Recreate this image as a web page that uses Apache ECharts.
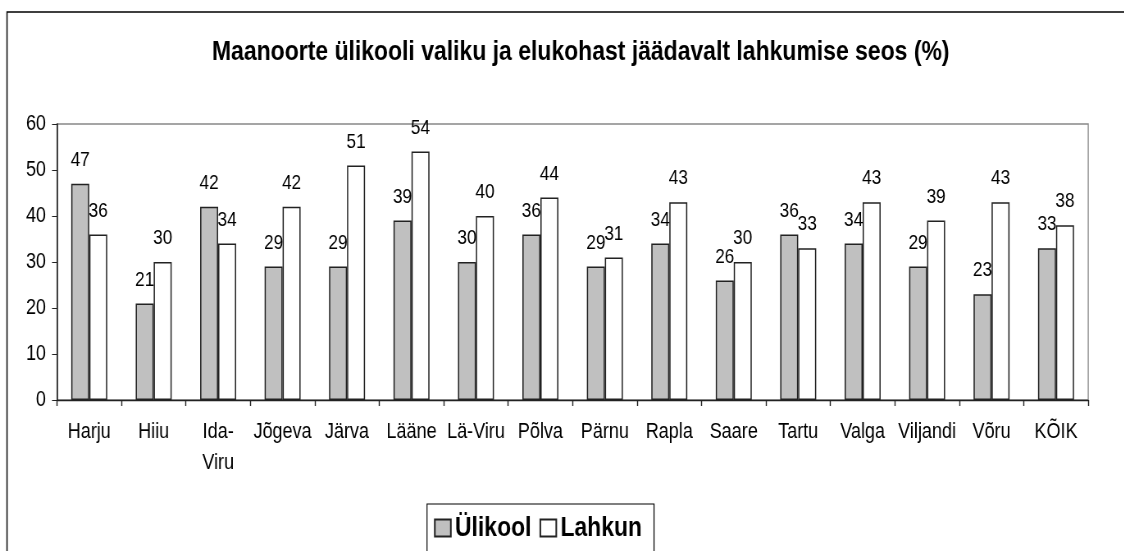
<!DOCTYPE html>
<html>
<head>
<meta charset="utf-8">
<script src="https://cdn.jsdelivr.net/npm/echarts@6/dist/echarts.min.js"></script>
<style>
  html, body { margin: 0; padding: 0; background: #fff; overflow: hidden; }
  /* the original text is horizontally condensed, so draw wider and squeeze */
  #chart { width: 1371px; height: 551px; transform: scaleX(0.82); transform-origin: 0 0; }
</style>
</head>
<body>
<div id="chart"></div>
<script>
const categories = ['Harju', 'Hiiu', 'Ida-Viru', 'Jõgeva', 'Järva', 'Lääne', 'Lä-Viru', 'Põlva',
  'Pärnu', 'Rapla', 'Saare', 'Tartu', 'Valga', 'Viljandi', 'Võru', 'KÕIK'];
const ylikool = [47, 21, 42, 29, 29, 39, 30, 36, 29, 34, 26, 36, 34, 29, 23, 33];
const lahkun = [36, 30, 34, 42, 51, 54, 40, 44, 31, 43, 30, 33, 43, 39, 43, 38];
const yTicks = [0, 10, 20, 30, 40, 50, 60];

const font = "'Liberation Sans', Arial, sans-serif";
const sx = 0.82; // horizontal squeeze of the page
const px = v => v / sx; // horizontal pixel in picture -> chart coordinate

const chart = echarts.init(document.getElementById('chart'));

const barLabel = {
  show: true,
  position: 'top',
  distance: 13,
  color: '#000',
  fontFamily: font,
  fontSize: 21
};

const option = {
  backgroundColor: '#fff',
  animation: false,
  title: {
    text: 'Maanoorte ülikooli valiku ja elukohast jäädavalt lahkumise seos (%)',
    left: px(212) - 5,
    top: 33,
    padding: 5,
    textStyle: { fontFamily: font, fontSize: 28, fontWeight: 'bold', color: '#000' }
  },
  graphic: [{
    type: 'rect',
    shape: { x: px(7), y: 12, width: 1500, height: 600 },
    style: { fill: 'none', stroke: '#000', lineWidth: 1.5 },
    silent: true
  }],
  legend: {
    left: px(427),
    top: 504,
    padding: [10, px(12), 20, px(7)],
    borderColor: '#000',
    borderWidth: 1.2,
    itemWidth: px(16),
    itemHeight: 17,
    itemGap: px(8),
    icon: 'rect',
    textStyle: { fontFamily: font, fontSize: 28, fontWeight: 'bold', color: '#000' },
    data: ['Ülikool', 'Lahkun']
  },
  grid: {
    left: px(57), right: px(36), top: 124, bottom: 151,
    show: true, borderColor: '#888', borderWidth: 1.3
  },
  xAxis: {
    type: 'category',
    data: categories,
    boundaryGap: true,
    axisLine: { lineStyle: { color: '#222', width: 1.3 } },
    axisTick: { show: true, length: 6, alignWithLabel: false, lineStyle: { color: '#222', width: 1.4 } },
    axisLabel: {
      interval: 0,
      margin: 16,
      color: '#000',
      fontFamily: font,
      fontSize: 22,
      lineHeight: 31,
      formatter: v => v === 'Ida-Viru' ? 'Ida-\nViru' : v
    }
  },
  yAxis: {
    type: 'value',
    min: yTicks[0],
    max: yTicks[yTicks.length - 1],
    interval: 10,
    splitLine: { show: false },
    axisLine: { show: true, lineStyle: { color: '#222', width: 1.6 } },
    axisTick: { show: true, length: px(5), lineStyle: { color: '#222' } },
    axisLabel: { margin: px(11), color: '#000', fontFamily: font, fontSize: 22 }
  },
  series: [
    {
      name: 'Ülikool',
      type: 'bar',
      data: ylikool,
      barWidth: px(18),
      barGap: '0%',
      itemStyle: { color: '#c0c0c0', borderColor: '#222', borderWidth: 1.5 },
      label: barLabel
    },
    {
      name: 'Lahkun',
      type: 'bar',
      data: lahkun,
      barWidth: px(18),
      barGap: '0%',
      itemStyle: { color: '#fff', borderColor: '#222', borderWidth: 1.5 },
      label: barLabel
    }
  ]
};

chart.setOption(option);
</script>
</body>
</html>
